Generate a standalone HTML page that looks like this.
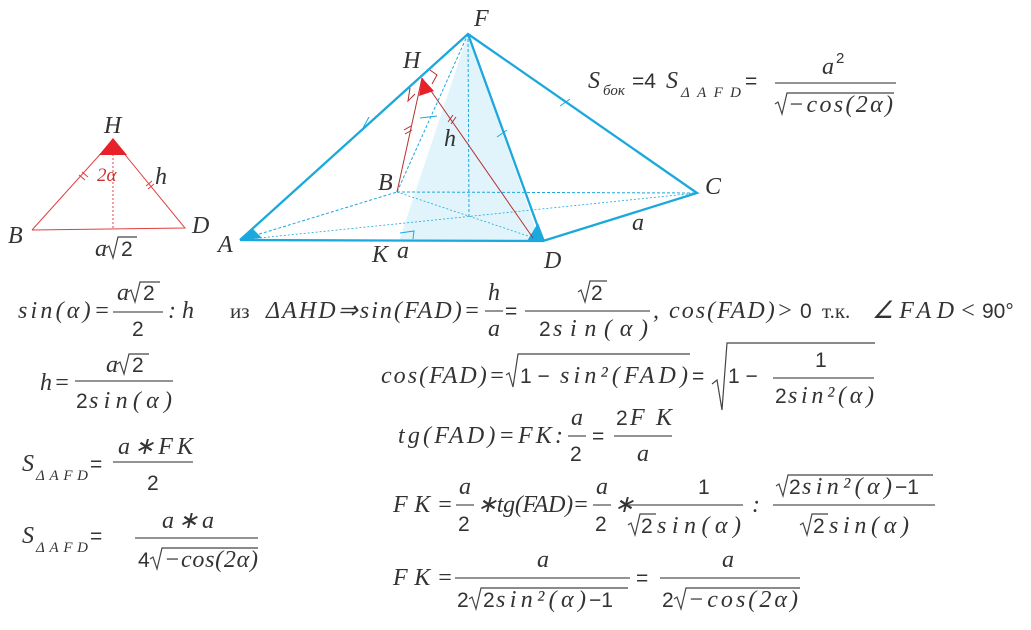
<!DOCTYPE html>
<html><head><meta charset="utf-8"><style>
body{margin:0;background:#fff;}
svg{display:block}
.i{font-family:"Liberation Serif",serif;font-style:italic;font-size:24px;fill:#333}
.u{font-family:"Liberation Sans",sans-serif;font-size:21px;fill:#333}
.s{font-family:"Liberation Serif",serif;font-style:italic;font-size:15px;fill:#333}
.r{font-family:"Liberation Serif","DejaVu Serif",serif;font-size:21px;fill:#333}
.fl{stroke:#555;stroke-width:1.3}
.rd{fill:none;stroke:#444;stroke-width:1.2}
</style></head><body>
<svg width="1031" height="630" viewBox="0 0 1031 630" xmlns="http://www.w3.org/2000/svg">
<!-- pyramid -->
<polygon points="468,34 399,241 540,241" fill="#e2f4fb"/>
<g stroke="#1ba8dc" fill="none">
<line x1="397" y1="192" x2="697" y2="193" stroke-width="1" stroke-dasharray="3,2"/>
<line x1="240" y1="240" x2="397" y2="192" stroke-width="1" stroke-dasharray="3,2"/>
<line x1="240" y1="240" x2="697" y2="193" stroke-width="0.8" stroke-dasharray="2,2"/>
<line x1="397" y1="192" x2="543" y2="241" stroke-width="0.8" stroke-dasharray="2,2"/>
<line x1="468" y1="34" x2="469" y2="216" stroke-width="1" stroke-dasharray="3,2"/>
<line x1="468" y1="34" x2="397" y2="192" stroke-width="1" stroke-dasharray="3,2"/>
<polyline points="240,240 468,34 697,193 543,241 240,240" stroke-width="2.3"/>
<line x1="468" y1="34" x2="543" y2="241" stroke-width="2.3"/>
<polyline points="400,233 414,231 413,239" stroke-width="1"/>
<line x1="363" y1="128" x2="369" y2="117" stroke-width="1"/>
<line x1="560" y1="106" x2="570" y2="99" stroke-width="1"/>
<line x1="497" y1="137" x2="507" y2="130" stroke-width="1"/>
<line x1="420" y1="118" x2="437" y2="116" stroke-width="1"/>
</g>
<polygon points="240,240 253,229 262,238" fill="#1ba8dc"/>
<polygon points="527,241 538,223 545,241" fill="#1ba8dc"/>
<g stroke="#b43030" stroke-width="1" fill="none">
<line x1="422" y1="78" x2="397" y2="192"/>
<line x1="422" y1="78" x2="533" y2="238"/>
<polyline points="430,70 437,75 432,84"/>
<polyline points="410,88 408,101 415,94"/>
<line x1="404" y1="130" x2="411" y2="126"/><line x1="405" y1="134" x2="412" y2="130"/>
<line x1="448" y1="122" x2="453" y2="115"/><line x1="451" y1="124" x2="456" y2="117"/>
</g>
<polygon points="422,78 419,96 434,91" fill="#e8202a"/>
<text class="i" x="474" y="26">F</text>
<text class="i" x="403" y="68">H</text>
<text class="i" x="444" y="146">h</text>
<text class="i" x="378" y="190">B</text>
<text class="i" x="705" y="194">C</text>
<text class="i" x="218" y="252">A</text>
<text class="i" x="372" y="262">K</text>
<text class="i" x="397" y="258">a</text>
<text class="i" x="544" y="268">D</text>
<text class="i" x="632" y="230">a</text>
<!-- left triangle -->
<g stroke="#e04040" stroke-width="1" fill="none">
<polyline points="32,230 113,140 185,228 32,230"/>
<line x1="113" y1="150" x2="113" y2="229" stroke-dasharray="2,2"/>
<line x1="79" y1="175" x2="85" y2="180"/><line x1="82" y1="172" x2="88" y2="177"/>
<line x1="146" y1="186" x2="152" y2="181"/><line x1="148" y1="189" x2="154" y2="184"/>
</g>
<polygon points="113,138 99,155 127,155" fill="#e8202a"/>
<text x="97" y="181" style="font-family:'Liberation Serif',serif;font-style:italic;font-size:19px;fill:#d03030">2α</text>
<text class="i" x="104" y="133">H</text>
<text class="i" x="155" y="184">h</text>
<text class="i" x="8" y="243">B</text>
<text class="i" x="192" y="233">D</text>
<text class="i" x="95" y="256">a</text><path class="rd" d="M106,248 L109,246 L113,258 L118,237 L137,237"/><text class="u" x="121" y="256">2</text>
<!-- top right -->
<text class="i" x="588" y="88">S</text><text class="s" x="603" y="95">бок</text>
<text class="u" x="632" y="88">=4</text><text class="i" x="666" y="88">S</text><text class="s" x="681" y="97" textLength="60" lengthAdjust="spacing">ΔAFD</text>
<text class="u" x="745" y="88">=</text>
<text class="i" x="822" y="74">a</text><text class="u" x="836" y="63" style="font-size:15px">2</text>
<line x1="775" y1="83" x2="896" y2="83" class="fl"/>
<path class="rd" d="M775,104 L778,102 L782,114 L787,93 L894,93"/>
<text class="i" x="788" y="112" textLength="105" lengthAdjust="spacing">−cos(2α)</text>
<!-- left formulas -->
<text class="i" x="18" y="318" textLength="92" lengthAdjust="spacing">sin(α)=</text>
<text class="i" x="117" y="300">a</text><path class="rd" d="M128,292 L131,290 L135,302 L140,282 L160,282"/><text class="u" x="143" y="300">2</text>
<line x1="113" y1="312" x2="163" y2="312" class="fl"/><text class="u" x="132" y="336">2</text>
<text class="i" x="168" y="318">: h</text>
<text class="i" x="40" y="390" textLength="30" lengthAdjust="spacing">h=</text>
<text class="i" x="106" y="372">a</text><path class="rd" d="M117,364 L120,362 L124,374 L129,354 L149,354"/><text class="u" x="132" y="372">2</text>
<line x1="75" y1="381" x2="173" y2="381" class="fl"/>
<text class="u" x="76" y="408">2</text><text class="i" x="89" y="408" textLength="83" lengthAdjust="spacing">sin(α)</text>
<text class="i" x="22" y="471">S</text><text class="s" x="36" y="480" textLength="52" lengthAdjust="spacing">ΔAFD</text><text class="u" x="90" y="471">=</text>
<text class="i" x="118" y="454" textLength="75" lengthAdjust="spacing">a∗FK</text>
<line x1="113" y1="462" x2="193" y2="462" class="fl"/><text class="u" x="147" y="490">2</text>
<text class="i" x="22" y="543">S</text><text class="s" x="36" y="552" textLength="52" lengthAdjust="spacing">ΔAFD</text><text class="u" x="90" y="543">=</text>
<text class="i" x="162" y="528" textLength="52" lengthAdjust="spacing">a∗a</text>
<line x1="135" y1="538" x2="258" y2="538" class="fl"/>
<text class="u" x="138" y="567">4</text><path class="rd" d="M150,559 L153,557 L157,569 L162,548 L258,548"/>
<text class="i" x="164" y="567" textLength="94" lengthAdjust="spacing">−cos(2α)</text>
<!-- main row 1 -->
<text class="r" x="230" y="318">из </text>
<text class="i" x="266" y="318" textLength="214" lengthAdjust="spacing">ΔAHD⇒sin(FAD)=</text>
<text class="i" x="488" y="300">h</text><line x1="485" y1="311" x2="503" y2="311" class="fl"/><text class="i" x="488" y="336">a</text>
<text class="u" x="505" y="318">=</text>
<path class="rd" d="M578,292 L581,290 L585,302 L590,281 L607,281"/><text class="u" x="591" y="300">2</text>
<line x1="525" y1="311" x2="650" y2="311" class="fl"/>
<text class="u" x="539" y="336">2</text><text class="i" x="553" y="336" textLength="95" lengthAdjust="spacing">sin(α)</text>
<text class="i" x="653" y="318" textLength="140" lengthAdjust="spacing">, cos(FAD)&gt;</text>
<text class="u" x="800" y="318">0</text><text class="r" x="822" y="318">т.к.</text>
<text class="i" x="872" y="318" textLength="104" lengthAdjust="spacing">∠FAD&lt;</text><text class="u" x="982" y="318">90°</text>
<!-- row 2 -->
<text class="i" x="381" y="383" textLength="124" lengthAdjust="spacing">cos(FAD)=</text>
<path class="rd" d="M506,375 L509,373 L513,387 L518,354 L690,354"/>
<text class="u" x="520" y="383">1 −</text><text class="i" x="560" y="383" textLength="128" lengthAdjust="spacing">sin²(FAD)</text>
<text class="u" x="692" y="383">=</text>
<path class="rd" d="M712,384 L717,380 L722,410 L727,343 L875,343"/>
<text class="u" x="728" y="383">1 −</text>
<text class="u" x="815" y="367">1</text><line x1="773" y1="378" x2="874" y2="378" class="fl"/>
<text class="u" x="775" y="403">2</text><text class="i" x="788" y="403" textLength="86" lengthAdjust="spacing">sin²(α)</text>
<!-- row 3 -->
<text class="i" x="398" y="443" textLength="165" lengthAdjust="spacing">tg(FAD)=FK:</text>
<text class="i" x="571" y="425">a</text><line x1="568" y1="436" x2="586" y2="436" class="fl"/><text class="u" x="570" y="461">2</text>
<text class="u" x="592" y="443">=</text>
<text class="u" x="616" y="425">2</text><text class="i" x="630" y="425" textLength="42" lengthAdjust="spacing">FK</text>
<line x1="614" y1="436" x2="672" y2="436" class="fl"/><text class="i" x="637" y="461">a</text>
<!-- row 4 -->
<text class="i" x="393" y="512" textLength="60" lengthAdjust="spacing">FK=</text>
<text class="i" x="459" y="494">a</text><line x1="456" y1="505" x2="474" y2="505" class="fl"/><text class="u" x="458" y="531">2</text>
<text class="i" x="477" y="512" textLength="112" lengthAdjust="spacing">∗tg(FAD)=</text>
<text class="i" x="596" y="494">a</text><line x1="593" y1="505" x2="611" y2="505" class="fl"/><text class="u" x="595" y="531">2</text>
<text class="i" x="614" y="512">∗</text>
<text class="u" x="698" y="494">1</text><line x1="628" y1="505" x2="743" y2="505" class="fl"/>
<path class="rd" d="M628,525 L631,523 L635,535 L640,514 L656,514"/><text class="u" x="641" y="533">2</text><text class="i" x="657" y="533" textLength="84" lengthAdjust="spacing">sin(α)</text>
<text class="i" x="752" y="512">:</text>
<path class="rd" d="M776,486 L779,484 L783,496 L788,475 L933,475"/>
<text class="u" x="789" y="494">2</text><text class="i" x="802" y="494" textLength="90" lengthAdjust="spacing">sin²(α)</text><text class="u" x="895" y="494">−1</text>
<line x1="773" y1="505" x2="935" y2="505" class="fl"/>
<path class="rd" d="M800,525 L803,523 L807,535 L812,514 L828,514"/><text class="u" x="813" y="533">2</text><text class="i" x="829" y="533" textLength="80" lengthAdjust="spacing">sin(α)</text>
<!-- row 5 -->
<text class="i" x="393" y="585" textLength="60" lengthAdjust="spacing">FK=</text>
<text class="i" x="537" y="567">a</text><line x1="455" y1="578" x2="630" y2="578" class="fl"/>
<text class="u" x="457" y="607">2</text><path class="rd" d="M469,599 L472,597 L476,609 L481,588 L628,588"/>
<text class="u" x="483" y="607">2</text><text class="i" x="496" y="607" textLength="90" lengthAdjust="spacing">sin²(α)</text><text class="u" x="589" y="607">−1</text>
<text class="u" x="636" y="585">=</text>
<text class="i" x="722" y="567">a</text><line x1="660" y1="578" x2="800" y2="578" class="fl"/>
<text class="u" x="662" y="607">2</text><path class="rd" d="M674,599 L677,597 L681,609 L686,588 L800,588"/>
<text class="i" x="688" y="607" textLength="110" lengthAdjust="spacing">−cos(2α)</text>
</svg>
</body></html>
